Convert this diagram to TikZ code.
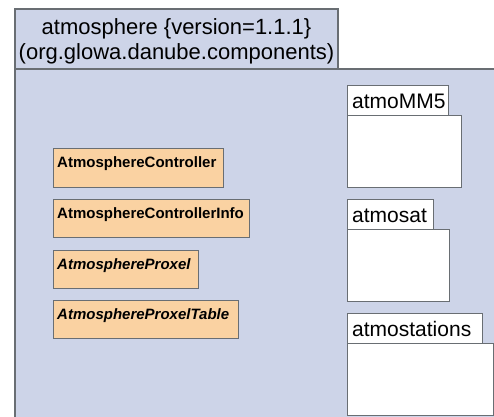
\documentclass[tikz,border=0pt]{standalone}
\usepackage{fontspec}
\setmainfont{Liberation Sans}
\definecolor{pkgfill}{RGB}{205,212,232}
\definecolor{clsfill}{RGB}{250,210,162}
\definecolor{edgecol}{RGB}{105,110,115}
\tikzset{
  box/.style={draw=edgecol, line width=1pt, anchor=north west, inner sep=0pt, outer sep=0pt},
  outerbox/.style={box, fill=pkgfill, line width=1.3pt},
  clsbox/.style={box, fill=clsfill},
  pkgbox/.style={box, fill=white},
  clstext/.style={anchor=base west, inner sep=0pt, font=\fontsize{15}{18}\selectfont\bfseries},
  pkgtext/.style={anchor=base west, inner sep=0pt, font=\fontsize{21}{25}\selectfont},
  titletext/.style={anchor=base, inner sep=0pt, font=\fontsize{22}{25}\selectfont},
}
\begin{document}
\begin{tikzpicture}[x=1pt,y=-1pt]
\useasboundingbox (0,0) rectangle (494,416);
\begin{scope}
\clip (0,0) rectangle (494,416);
% outer package
\node[outerbox, minimum width=485pt, minimum height=360pt] (outerbody) at (15,69) {};
\node[outerbox, minimum width=323pt, minimum height=60pt] (outertab) at (15,9) {};
\node[titletext] (title1) at (176.5,34) {atmosphere \{version=1.1.1\}};
\node[titletext] (title2) at (176.5,59) {(org.glowa.danube.components)};
% classes
\node[clsbox, minimum width=170pt, minimum height=39pt] (c1) at (53,148) {};
\node[clstext] (t1) at (57,167) {AtmosphereController};
\node[clsbox, minimum width=196pt, minimum height=38pt] (c2) at (53,199) {};
\node[clstext] (t2) at (57,218) {AtmosphereControllerInfo};
\node[clsbox, minimum width=145pt, minimum height=38pt] (c3) at (53,250) {};
\node[clstext] (t3) at (57,269) {\itshape AtmosphereProxel};
\node[clsbox, minimum width=185pt, minimum height=38pt] (c4) at (53,300) {};
\node[clstext] (t4) at (57,319) {\itshape AtmosphereProxelTable};
% sub packages
\node[pkgbox, minimum width=101pt, minimum height=30pt] (p1tab) at (347,85) {};
\node[pkgbox, minimum width=114pt, minimum height=72pt] (p1body) at (347,115) {};
\node[pkgtext] (p1t) at (352,108) {atmoMM5};
\node[pkgbox, minimum width=86pt, minimum height=30pt] (p2tab) at (347,199) {};
\node[pkgbox, minimum width=102pt, minimum height=72pt] (p2body) at (347,229) {};
\node[pkgtext] (p2t) at (352,222) {atmosat};
\node[pkgbox, minimum width=135pt, minimum height=30pt] (p3tab) at (347,313) {};
\node[pkgbox, minimum width=146pt, minimum height=72pt] (p3body) at (347,343) {};
\node[pkgtext] (p3t) at (352,336) {atmostations};
\end{scope}
\end{tikzpicture}
\end{document}
